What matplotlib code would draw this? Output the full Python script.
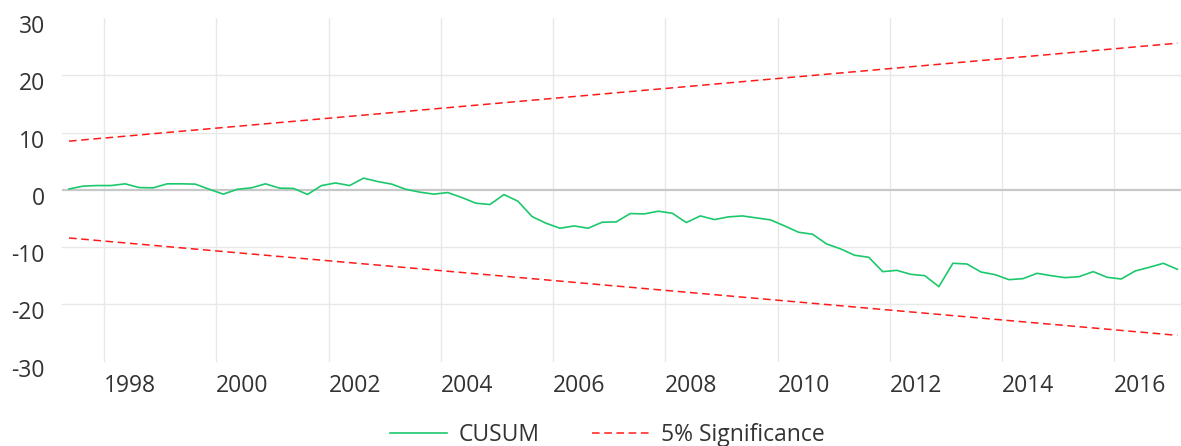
import matplotlib
matplotlib.use("Agg")
import matplotlib.pyplot as plt
import matplotlib.transforms as mtransforms
import pandas as pd

# quarterly CUSUM statistic, 1997Q2 .. 2017Q1
quarters = pd.period_range("1997Q2", "2017Q1", freq="Q")
cusum = [
    0.15, 0.65, 0.75, 0.75, 1.05, 0.4, 0.35, 1.05, 1.05, 1.0,
    0.1, -0.75, 0.1, 0.35, 1.05, 0.3, 0.25, -0.8, 0.75, 1.2,
    0.75, 2.05, 1.45, 1.0, 0.1, -0.4, -0.75, -0.47, -1.34, -2.33,
    -2.56, -0.82, -1.98, -4.66, -5.83, -6.7, -6.3, -6.7, -5.65, -5.6,
    -4.14, -4.2, -3.73, -4.08, -5.71, -4.55, -5.19, -4.72, -4.55, -4.9,
    -5.24, -6.29, -7.4, -7.75, -9.44, -10.31, -11.42, -11.77, -14.28, -14.05,
    -14.75, -14.98, -16.9, -12.82, -12.94, -14.34, -14.8, -15.68, -15.5, -14.57,
    -14.98, -15.33, -15.15, -14.28, -15.27, -15.56, -14.16, -13.52, -12.82, -13.87,
]
# 5% significance bounds (straight lines, start and end values)
bound_upper = [8.5, 25.6]
bound_lower = [-8.4, -25.4]

year_ticks = [1998, 2000, 2002, 2004, 2006, 2008, 2010, 2012, 2014, 2016]
y_ticks = [30, 20, 10, 0, -10, -20, -30]

x = quarters.year + (quarters.quarter - 0.5) / 4
bx = [x[0], x[-1]]

plt.rcParams["font.family"] = ["Open Sans", "DejaVu Sans"]
text_col = "#333333"

fig = plt.figure(figsize=(11.81, 4.46), dpi=100)
W, H = 1181, 446
ax = fig.add_axes([62 / W, 1 - 361.7 / H, (W - 62) / W, (361.7 - 18) / H])

ax.plot(x, cusum, color="#1cc86c", lw=1.2, label="CUSUM", zorder=3)
ax.plot(bx, bound_upper, color="#ff1a1a", lw=1.1, dashes=(5, 3),
        label="5% Significance", zorder=3)
ax.plot(bx, bound_lower, color="#ff1a1a", lw=1.1, dashes=(5, 3), zorder=3)

ax.set_xlim(1997.25, 2017.19)
ax.set_ylim(-30, 30)

# grid
for t in year_ticks:
    ax.axvline(t, color="#e8e8e8", lw=1, zorder=1)
for v in [20, 10, -10, -20]:
    ax.axhline(v, color="#e8e8e8", lw=1, zorder=1)
ax.axhline(0, color="#c8c8c8", lw=1.6, zorder=2)

for s in ax.spines.values():
    s.set_visible(False)

ax.set_xticks(year_ticks, [str(t) for t in year_ticks], ha="left",
              fontsize=16.5, color=text_col)
ax.tick_params(axis="x", length=0, pad=8.5)
ax.set_yticks([])

ytrans = mtransforms.offset_copy(ax.get_yaxis_transform(), fig=fig,
                                 x=-17, y=-9, units="dots")
for v in y_ticks:
    ax.text(0, v, str(v), transform=ytrans, ha="right", va="center",
            fontsize=16.5, color=text_col)

fig.legend(loc="lower center", bbox_to_anchor=(0.514, -0.028), ncol=2,
           frameon=False, fontsize=16.5, handlelength=2.5,
           handletextpad=0.5, columnspacing=2.3, labelcolor=text_col,
           borderaxespad=0.1)

fig.savefig("out.png", dpi=100)
